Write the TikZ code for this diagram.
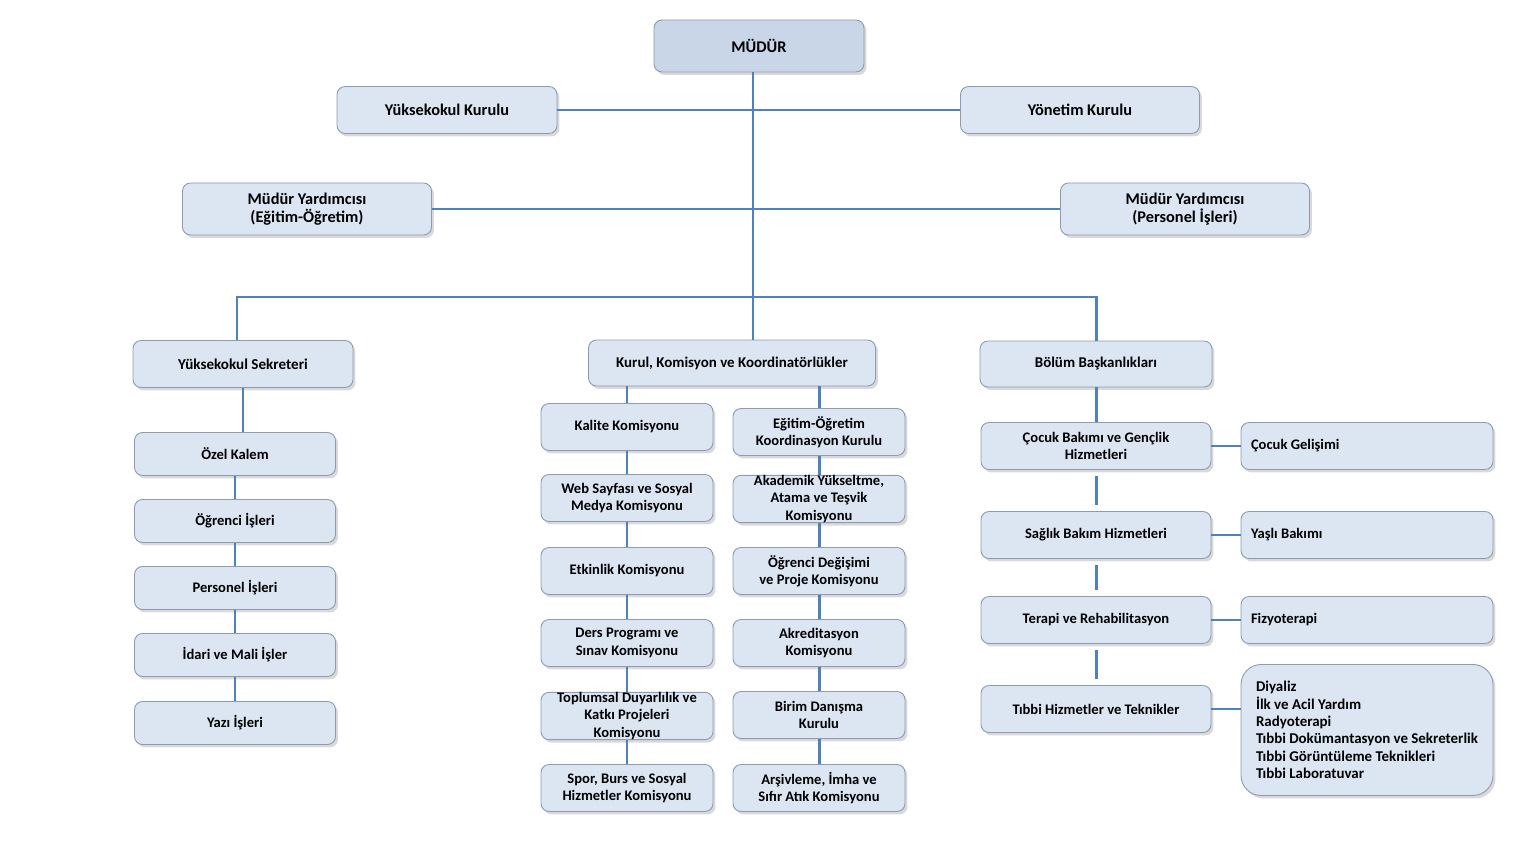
\documentclass[tikz,border=0pt]{standalone}
\usepackage{fontspec}
\setmainfont{Carlito}
\usepackage{xcolor}
\usepackage{tikz}
\usetikzlibrary{positioning,shadows,calc}
\definecolor{OrgBlue}{HTML}{4F81BD}
\definecolor{OrgFill}{HTML}{DCE6F2}
\definecolor{OrgTop}{HTML}{C8D6E8}
\definecolor{OrgEdge}{HTML}{8C9CB0}
\newcommand{\orgfont}[1]{\fontsize{#1}{9.9}\selectfont\bfseries}
\tikzset{
  orgbox/.style={draw=OrgEdge,fill=OrgFill,line width=0.5pt,rounded corners=1.6mm,align=center,inner sep=0pt,font=\orgfont{8.3},drop shadow={opacity=0.3,shadow xshift=0.5mm,shadow yshift=-0.6mm}},
  headbox/.style={orgbox,font=\orgfont{9.3}},
  leftbox/.style={orgbox,minimum width=4.02cm,minimum height=0.86cm},
  midbox/.style={orgbox,minimum width=3.44cm,minimum height=0.94cm},
  rightbox/.style={orgbox,minimum width=4.6cm,minimum height=0.94cm},
  sidebox/.style={orgbox,align=flush left,text width=4.64cm,inner xsep=2mm,minimum height=0.94cm},
  link/.style={line width=1.7pt,draw=OrgBlue},
  gaplink/.style={link,shorten <=1.2mm,shorten >=1.2mm}
}

\begin{document}
\begin{tikzpicture}[x=0.02cm,y=-0.02cm]
\useasboundingbox (0,0) rectangle (1536,864);
% top levels
\node[headbox,fill=OrgTop,minimum width=4.2cm,minimum height=1.04cm] (mud) at (759,46) {MÜDÜR};
\node[headbox,minimum width=4.4cm,minimum height=0.94cm] (yk) at (447,110) {Yüksekokul Kurulu};
\node[headbox,minimum width=4.78cm,minimum height=0.94cm] (yn) at (1080,110) {Yönetim Kurulu};
\node[headbox,minimum width=4.98cm,minimum height=1.04cm] (my1) at (307,209) {Müdür Yardımcısı\\(Eğitim-Öğretim)};
\node[headbox,minimum width=4.98cm,minimum height=1.04cm] (my2) at (1185,209) {Müdür Yardımcısı\\(Personel İşleri)};
\node[orgbox,font=\orgfont{8.6},minimum width=4.4cm,minimum height=0.94cm] (ys) at (243,364) {Yüksekokul Sekreteri};
\node[orgbox,font=\orgfont{8.5},minimum width=5.74cm,minimum height=0.92cm] (kk) at (732,363) {Kurul, Komisyon ve Koordinatörlükler};
\node[orgbox,font=\orgfont{8.5},minimum width=4.64cm,minimum height=0.92cm] (bb) at (1096,364) {Bölüm Başkanlıkları};
\coordinate (j) at (753,297);

% sekreterlik
\node[leftbox] (oz) at (235,454) {Özel Kalem};
\node[leftbox] (oi) at (235,521) {Öğrenci İşleri};
\node[leftbox] (pi) at (235,588) {Personel İşleri};
\node[leftbox] (im) at (235,655) {İdari ve Mali İşler};
\node[leftbox] (yi) at (235,723) {Yazı İşleri};

% komisyonlar
\node[midbox] (kal) at (627,427) {Kalite Komisyonu};
\node[midbox] (web) at (627,498) {Web Sayfası ve Sosyal\\Medya Komisyonu};
\node[midbox] (etk) at (627,571) {Etkinlik Komisyonu};
\node[midbox] (ders) at (627,643) {Ders Programı ve\\Sınav Komisyonu};
\node[midbox] (top) at (627,716) {Toplumsal Duyarlılık ve\\Katkı Projeleri\\Komisyonu};
\node[midbox] (spor) at (627,788) {Spor, Burs ve Sosyal\\Hizmetler Komisyonu};
\node[midbox] (eo) at (819,432) {Eğitim-Öğretim\\Koordinasyon Kurulu};
\node[midbox] (aka) at (819,499) {Akademik Yükseltme,\\Atama ve Teşvik\\Komisyonu};
\node[midbox] (od) at (819,571) {Öğrenci Değişimi\\ve Proje Komisyonu};
\node[midbox] (akr) at (819,643) {Akreditasyon\\Komisyonu};
\node[midbox] (bd) at (819,715) {Birim Danışma\\Kurulu};
\node[midbox] (ars) at (819,788) {Arşivleme, İmha ve\\Sıfır Atık Komisyonu};

% bolumler
\node[rightbox] (cb) at (1096,446) {Çocuk Bakımı ve Gençlik\\Hizmetleri};
\node[rightbox] (sb) at (1096,535) {Sağlık Bakım Hizmetleri};
\node[rightbox] (tr) at (1096,620) {Terapi ve Rehabilitasyon};
\node[rightbox] (th) at (1096,709) {Tıbbi Hizmetler ve Teknikler};
\node[sidebox] (cg) at (1367,446) {Çocuk Gelişimi};
\node[sidebox] (yb) at (1367,535) {Yaşlı Bakımı};
\node[sidebox] (fz) at (1367,620) {Fizyoterapi};
\node[orgbox,font=\orgfont{8.5},align=flush left,text width=4.44cm,inner xsep=3mm,minimum height=2.62cm,rounded corners=4mm] (dl) at (1367,730)
  {Diyaliz\\İlk ve Acil Yardım\\Radyoterapi\\Tıbbi Dokümantasyon ve Sekreterlik\\Tıbbi Görüntüleme Teknikleri\\Tıbbi Laboratuvar};

% connectors
\draw[link] (j |- mud.south) -- (j |- kk.north);
\draw[link] (yk.east) -- (yn.west);
\draw[link] (my1.east) -- (my2.west);
\draw[link] ($(ys.north)+(-6,0)$) -- ($(ys.north |- j)+(-6,0)$) -- (bb.north |- j) -- (bb.north);
\draw[link] (ys.south) -- (ys.south |- oz.north);
\draw[link] (kk.south -| kal.north) -- (kal.north);
\draw[link] (kk.south -| eo.north) -- (eo.north);
\foreach \a/\b in {oz/oi,oi/pi,pi/im,im/yi,kal/web,web/etk,etk/ders,ders/top,top/spor,eo/aka,aka/od,od/akr,akr/bd,bd/ars}
  \draw[link] (\a) -- (\b);
\draw[link] (bb) -- (cb);
\foreach \a/\b in {cb/sb,sb/tr,tr/th}
  \draw[gaplink] (\a) -- (\b);
\draw[link] (cb.east) -- (cg.west);
\draw[link] (sb.east) -- (yb.west);
\draw[link] (tr.east) -- (fz.west);
\draw[link] (th.east) -- (th.east -| dl.west);
\end{tikzpicture}
\end{document}
